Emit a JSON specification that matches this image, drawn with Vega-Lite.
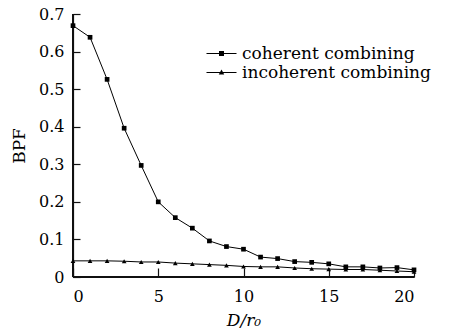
{
  "$schema": "https://vega.github.io/schema/vega-lite/v6.json",
  "autosize": "none",
  "width": 341,
  "height": 263,
  "padding": {"left": 73, "top": 14, "right": 41, "bottom": 59},
  "background": "white",
  "config": {
    "view": {"stroke": null},
    "font": "DejaVu Serif"
  },
  "data": {
    "values": [
      {"x": 0, "y": 0.669, "series": "coherent combining"},
      {"x": 1, "y": 0.638, "series": "coherent combining"},
      {"x": 2, "y": 0.526, "series": "coherent combining"},
      {"x": 3, "y": 0.396, "series": "coherent combining"},
      {"x": 4, "y": 0.297, "series": "coherent combining"},
      {"x": 5, "y": 0.200, "series": "coherent combining"},
      {"x": 6, "y": 0.158, "series": "coherent combining"},
      {"x": 7, "y": 0.130, "series": "coherent combining"},
      {"x": 8, "y": 0.096, "series": "coherent combining"},
      {"x": 9, "y": 0.081, "series": "coherent combining"},
      {"x": 10, "y": 0.074, "series": "coherent combining"},
      {"x": 11, "y": 0.053, "series": "coherent combining"},
      {"x": 12, "y": 0.049, "series": "coherent combining"},
      {"x": 13, "y": 0.041, "series": "coherent combining"},
      {"x": 14, "y": 0.039, "series": "coherent combining"},
      {"x": 15, "y": 0.035, "series": "coherent combining"},
      {"x": 16, "y": 0.027, "series": "coherent combining"},
      {"x": 17, "y": 0.027, "series": "coherent combining"},
      {"x": 18, "y": 0.024, "series": "coherent combining"},
      {"x": 19, "y": 0.025, "series": "coherent combining"},
      {"x": 20, "y": 0.019, "series": "coherent combining"},
      {"x": 0, "y": 0.043, "series": "incoherent combining"},
      {"x": 1, "y": 0.043, "series": "incoherent combining"},
      {"x": 2, "y": 0.043, "series": "incoherent combining"},
      {"x": 3, "y": 0.042, "series": "incoherent combining"},
      {"x": 4, "y": 0.040, "series": "incoherent combining"},
      {"x": 5, "y": 0.040, "series": "incoherent combining"},
      {"x": 6, "y": 0.037, "series": "incoherent combining"},
      {"x": 7, "y": 0.035, "series": "incoherent combining"},
      {"x": 8, "y": 0.033, "series": "incoherent combining"},
      {"x": 9, "y": 0.031, "series": "incoherent combining"},
      {"x": 10, "y": 0.028, "series": "incoherent combining"},
      {"x": 11, "y": 0.027, "series": "incoherent combining"},
      {"x": 12, "y": 0.027, "series": "incoherent combining"},
      {"x": 13, "y": 0.024, "series": "incoherent combining"},
      {"x": 14, "y": 0.022, "series": "incoherent combining"},
      {"x": 15, "y": 0.021, "series": "incoherent combining"},
      {"x": 16, "y": 0.020, "series": "incoherent combining"},
      {"x": 17, "y": 0.020, "series": "incoherent combining"},
      {"x": 18, "y": 0.018, "series": "incoherent combining"},
      {"x": 19, "y": 0.016, "series": "incoherent combining"},
      {"x": 20, "y": 0.014, "series": "incoherent combining"}
    ]
  },
  "encoding": {
    "x": {"field": "x", "type": "quantitative", "scale": {"domain": [0, 20], "nice": false, "zero": false},
      "axis": {"values": [0, 5, 10, 15, 20], "title": "D/r₀", "titleFontStyle": "italic", "grid": false,
        "domainColor": "#111111", "domainWidth": 1.2, "tickColor": "#111111", "tickWidth": 1.2, "tickSize": -9,
        "labelColor": "black", "labelFont": "DejaVu Serif", "labelFontSize": 16, "labelPadding": 20,
        "titleColor": "black", "titleFont": "DejaVu Serif", "titleFontSize": 17, "titleFontWeight": "normal", "titlePadding": 8}},
    "y": {"field": "y", "type": "quantitative", "scale": {"domain": [0, 0.7], "nice": false},
      "axis": {"values": [0, 0.1, 0.2, 0.3, 0.4, 0.5, 0.6, 0.7], "labelExpr": "datum.value === 0 ? '0' : format(datum.value, '.1f')", "title": "BPF", "grid": false,
        "domainColor": "#111111", "domainWidth": 1.2, "tickColor": "#111111", "tickWidth": 1.2, "tickSize": -7,
        "labelColor": "black", "labelFont": "DejaVu Serif", "labelFontSize": 16, "labelPadding": 16,
        "titleColor": "black", "titleFont": "DejaVu Serif", "titleFontSize": 17, "titleFontWeight": "normal", "titlePadding": 10}}
  },
  "layer": [
    {"mark": {"type": "rule", "color": "#111111", "strokeWidth": 1}, "encoding": {"x": {"datum": 0}, "y": null}},
    {"mark": {"type": "rule", "color": "#111111", "strokeWidth": 1}, "encoding": {"y": {"datum": 0}, "x": null}},
    {"mark": {"type": "line", "color": "black", "strokeWidth": 1}, "encoding": {"detail": {"field": "series"}}},
    {"mark": {"type": "point", "filled": true, "color": "black", "opacity": 1, "size": 22},
      "encoding": {"shape": {"field": "series", "type": "nominal", "scale": {"range": ["square", "triangle-up"]}, "legend": null}}},
    {"mark": {"type": "point", "filled": true, "color": "black", "opacity": 0},
      "encoding": {"size": {"value": 100}, "opacity": {"value": 0},
        "shape": {"field": "series", "type": "nominal", "title": null,
          "scale": {"range": ["M-3,-0.1H3V0.1H-3ZM-0.5,-0.5H0.5V0.5H-0.5Z", "M-3,-0.1H3V0.1H-3ZM0,-0.6L0.55,0.4H-0.55Z"]},
          "legend": {"orient": "none", "legendX": 140, "legendY": 31, "labelLimit": 400, "symbolOpacity": 1, "symbolFillColor": "black", "symbolSize": 100, "labelFontSize": 17, "labelFont": "DejaVu Serif", "labelColor": "black", "labelOffset": 12, "rowPadding": 1, "symbolOffset": 0, "padding": 0,
            "encode": {"symbols": {"update": {"fill": {"value": "black"}, "opacity": {"value": 1}, "fillOpacity": {"value": 1}}}}}}}}
  ],
  "resolve": {"scale": {"shape": "independent"}}
}
